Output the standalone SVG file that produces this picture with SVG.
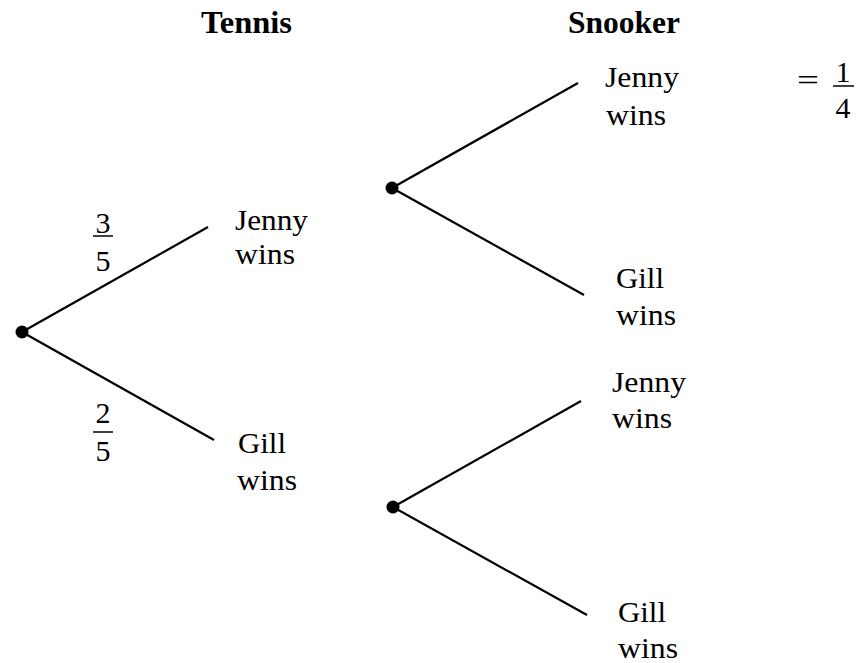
<svg xmlns="http://www.w3.org/2000/svg" width="859" height="663" viewBox="0 0 859 663" font-family="Liberation Serif, Times New Roman, serif">
<style>
text{font-size:29px;fill:#000}
.h{font-weight:bold;font-size:32px}
.d{font-size:30px;text-anchor:middle}
.ln{stroke:#000;stroke-width:2.2;fill:none}
.bar{stroke:#000;stroke-width:1.5}
</style>
<rect width="859" height="663" fill="#fff"/>
<g id="headers" font-family="Liberation Serif, Times New Roman, serif">
<text class="h" x="201" y="33" textLength="91" lengthAdjust="spacingAndGlyphs">Tennis</text>
<text class="h" x="568" y="33" textLength="112" lengthAdjust="spacingAndGlyphs">Snooker</text>
</g>
<g id="connectors">
<line class="ln" x1="22" y1="332" x2="208" y2="227"/>
<line class="ln" x1="22" y1="332" x2="214" y2="440"/>
<line class="ln" x1="392" y1="188" x2="578" y2="83"/>
<line class="ln" x1="392" y1="188" x2="584" y2="295"/>
<line class="ln" x1="393" y1="507" x2="581" y2="401"/>
<line class="ln" x1="393" y1="507" x2="587" y2="615"/>
</g>
<g id="root"><circle cx="22" cy="332" r="6.5"/></g>
<g id="snooker-node-1"><circle cx="392" cy="188" r="6.5"/></g>
<g id="snooker-node-2"><circle cx="393" cy="507" r="6.5"/></g>
<g id="prob-3-5" font-family="Liberation Serif, Times New Roman, serif">
<text class="d" x="103" y="233">3</text>
<line class="bar" x1="93" y1="236" x2="113" y2="236"/>
<text class="d" x="103" y="271">5</text>
</g>
<g id="prob-2-5" font-family="Liberation Serif, Times New Roman, serif">
<text class="d" x="103" y="423">2</text>
<line class="bar" x1="93" y1="432" x2="113" y2="432"/>
<text class="d" x="103" y="461">5</text>
</g>
<g id="tennis-jenny" font-family="Liberation Serif, Times New Roman, serif"><text x="235" y="230" textLength="73" lengthAdjust="spacingAndGlyphs">Jenny</text><text x="235" y="264" textLength="60" lengthAdjust="spacingAndGlyphs">wins</text></g>
<g id="tennis-gill" font-family="Liberation Serif, Times New Roman, serif"><text x="238" y="453" textLength="48" lengthAdjust="spacingAndGlyphs">Gill</text><text x="237" y="490" textLength="60" lengthAdjust="spacingAndGlyphs">wins</text></g>
<g id="snooker-jenny-1" font-family="Liberation Serif, Times New Roman, serif"><text x="605" y="87" textLength="74" lengthAdjust="spacingAndGlyphs">Jenny</text><text x="606" y="125" textLength="60" lengthAdjust="spacingAndGlyphs">wins</text></g>
<g id="snooker-gill-1" font-family="Liberation Serif, Times New Roman, serif"><text x="616" y="288" textLength="48" lengthAdjust="spacingAndGlyphs">Gill</text><text x="616" y="325" textLength="60" lengthAdjust="spacingAndGlyphs">wins</text></g>
<g id="snooker-jenny-2" font-family="Liberation Serif, Times New Roman, serif"><text x="612" y="392" textLength="74" lengthAdjust="spacingAndGlyphs">Jenny</text><text x="612" y="428" textLength="60" lengthAdjust="spacingAndGlyphs">wins</text></g>
<g id="snooker-gill-2" font-family="Liberation Serif, Times New Roman, serif"><text x="618" y="622" textLength="48" lengthAdjust="spacingAndGlyphs">Gill</text><text x="618" y="658" textLength="60" lengthAdjust="spacingAndGlyphs">wins</text></g>
<g id="result" font-family="Liberation Serif, Times New Roman, serif">
<text x="797" y="90" textLength="22" lengthAdjust="spacingAndGlyphs">=</text>
<text class="d" x="843" y="82">1</text>
<line class="bar" x1="833" y1="86" x2="854" y2="86"/>
<text class="d" x="843" y="118">4</text>
</g>
</svg>
